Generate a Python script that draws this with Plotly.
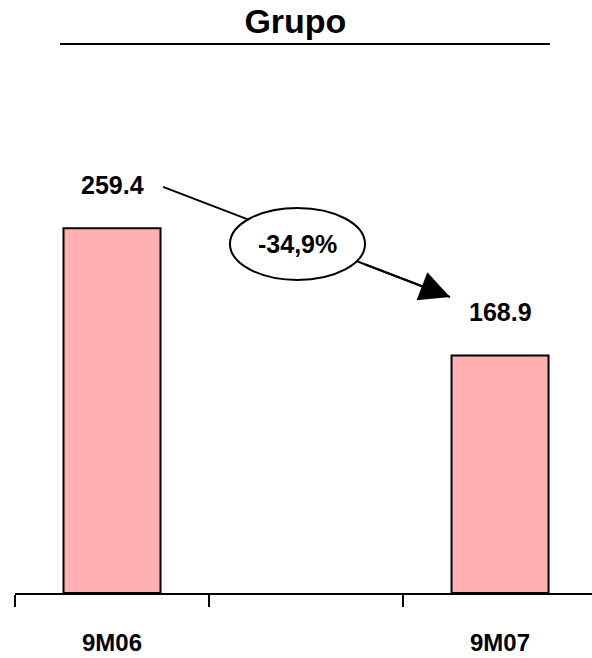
import plotly.graph_objects as go

# ---- data ----
categories = ["9M06", " ", "9M07"]
values = [259.4, None, 168.9]
value_labels = ["259.4", "", "168.9"]
change_label = "-34,9%"
title_text = "Grupo"

# ---- style ----
BAR_FILL = "#FFB0B0"
W, H = 592, 658
M_L, M_R, M_T, M_B = 15, 0, 60, 65
Y_MAX = 379
X_RANGE = [-0.5, 2.474]

fig = go.Figure()
fig.add_trace(go.Bar(
    x=categories, y=values,
    marker=dict(color=BAR_FILL, line=dict(color="black", width=2)),
    hoverinfo="skip",
))

# value labels above bars
for c, v, t in zip(categories, values, value_labels):
    if v is None:
        continue
    fig.add_annotation(x=c, y=v, text=f"<b>{t}</b>", showarrow=False,
                       yanchor="middle", yshift=43,
                       font=dict(family="Liberation Sans, Arial, sans-serif", size=25, color="black"))

# arrow + ellipse (decoration)
ARW_START = (0.263, 288.8)
ARW_END = (1.742, 210.5)
ELL = dict(x0=0.608, x1=1.304, y0=222.6, y1=273.8)
fig.add_shape(type="line", xref="x", yref="y",
              x0=ARW_START[0], y0=ARW_START[1], x1=ARW_END[0], y1=ARW_END[1],
              line=dict(color="black", width=2))
fig.add_shape(type="circle", xref="x", yref="y", **ELL,
              fillcolor="white", line=dict(color="black", width=2))
tail = 0.3
fig.add_annotation(x=ARW_END[0], y=ARW_END[1], xref="x", yref="y",
                   ax=ARW_END[0] - tail * (ARW_END[0] - ARW_START[0]),
                   ay=ARW_END[1] - tail * (ARW_END[1] - ARW_START[1]),
                   axref="x", ayref="y", text="", showarrow=True,
                   arrowhead=2, arrowsize=3.0, arrowwidth=2, arrowcolor="black")
fig.add_annotation(x=(ELL["x0"] + ELL["x1"]) / 2, y=(ELL["y0"] + ELL["y1"]) / 2,
                   xref="x", yref="y", text=f"<b>{change_label}</b>", showarrow=False,
                   font=dict(family="Liberation Sans, Arial, sans-serif", size=25, color="black"))

# title underline
fig.add_shape(type="line", xref="paper", yref="paper", x0=0.078, x1=0.927, y0=1.030, y1=1.030,
              line=dict(color="black", width=2))

fig.update_layout(
    width=W, height=H,
    margin=dict(l=M_L, r=M_R, t=M_T, b=M_B),
    paper_bgcolor="white", plot_bgcolor="white",
    showlegend=False, bargap=0.5,
    title=dict(text=f"<b>{title_text}</b>", x=0.499, xanchor="center",
               y=1 - 21 / H, yanchor="middle", yref="container",
               font=dict(family="Liberation Sans, Arial, sans-serif", size=34, color="black")),
    xaxis=dict(type="category", categoryorder="array", categoryarray=categories,
               range=X_RANGE, showline=True, linecolor="black", linewidth=2,
               ticks="outside", tickson="boundaries", ticklen=12, tickwidth=2, tickcolor="black",
               showgrid=False, zeroline=False, ticklabelstandoff=27,
               tickfont=dict(family="Liberation Sans Narrow, Arial Narrow, Liberation Sans, sans-serif",
                             size=24, color="black", weight="bold")),
    yaxis=dict(range=[0, Y_MAX], visible=False, showgrid=False, zeroline=False),
)

fig.write_html("out.html")
